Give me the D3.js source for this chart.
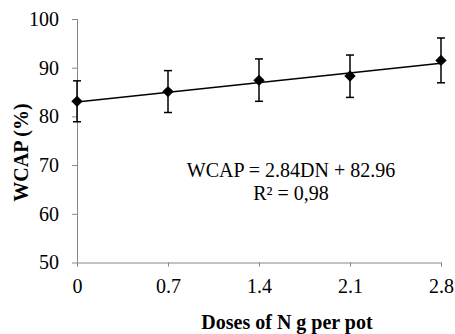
<!DOCTYPE html>
<html>
<head>
<meta charset="utf-8">
<script src="https://cdn.jsdelivr.net/npm/d3@7"></script>
<style>
  body { margin: 0; background: #fff; }
</style>
</head>
<body>
<svg id="chart" width="455" height="334"></svg>
<script>
// values
const doses = [0, 0.7, 1.4, 2.1, 2.8];
const wcap = [83.1, 85.1, 87.4, 88.3, 91.5];
const errUp = [4.2, 4.3, 4.4, 4.3, 4.6];
const errDown = [4.2, 4.3, 4.3, 4.4, 4.6];
const xTicks = ["0", "0.7", "1.4", "2.1", "2.8"];
const yTicks = [50, 60, 70, 80, 90, 100];
const trendSlope = 2.84;
const trendIntercept = 82.96;
const eqText = "WCAP = 2.84DN + 82.96";
const r2Text = "R² = 0,98";

const FONT = "Liberation Serif";
const svg = d3.select("#chart");

const marginLeft = 77;
const marginRight = 14;
const marginTop = 19;
const marginBottom = 71.5;
const width = 455, height = 334;

const xscale = d3.scaleLinear()
    .domain([0, 2.8])
    .range([marginLeft, width - marginRight]);

const yscale = d3.scaleLinear()
    .domain([50, 100])
    .range([height - marginBottom, marginTop]);

const axisColor = "#878787";

// axes
const xAxis = d3.axisBottom(xscale)
    .tickValues(doses)
    .tickFormat((d, i) => xTicks[i])
    .tickSizeOuter(0)
    .tickSize(4)
    .tickPadding(12);

const yAxis = d3.axisLeft(yscale)
    .tickValues(yTicks)
    .tickSizeOuter(0)
    .tickSize(5)
    .tickPadding(13);

const gx = svg.append("g")
    .attr("transform", `translate(0,${height - marginBottom})`)
    .call(xAxis);
const gy = svg.append("g")
    .attr("transform", `translate(${marginLeft},0)`)
    .call(yAxis);

[gx, gy].forEach(g => {
    g.attr("font-family", null).attr("font-size", null);
    g.select(".domain").attr("stroke", axisColor).attr("stroke-width", 1);
    g.selectAll(".tick line").attr("stroke", axisColor);
    g.selectAll(".tick text")
        .attr("fill", "#000")
        .style("font-size", "20px")
        .style("font-family", FONT);
});
gy.select(".domain").attr("d", `M0.5,${yscale(100)}V${yscale(50)}`);

// trend line
const line = d3.line()
    .x(d => xscale(d))
    .y(d => yscale(trendIntercept + trendSlope * d));

svg.append("path")
    .attr("d", line([doses[0], doses[doses.length - 1]]))
    .attr("fill", "none")
    .attr("stroke", "#000")
    .attr("stroke-width", 1.3);

// error bars
const eb = svg.append("g").attr("stroke", "#000").attr("stroke-width", 1.5);
doses.forEach((d, i) => {
    const x = xscale(d);
    const y1 = yscale(wcap[i] + errUp[i]);
    const y0 = yscale(wcap[i] - errDown[i]);
    eb.append("line").attr("x1", x).attr("x2", x).attr("y1", y1).attr("y2", y0);
    eb.append("line").attr("x1", x - 4).attr("x2", x + 4).attr("y1", y1).attr("y2", y1);
    eb.append("line").attr("x1", x - 4).attr("x2", x + 4).attr("y1", y0).attr("y2", y0);
});

// diamond markers
const diamond = d3.symbol().type(d3.symbolSquare).size(64);
svg.append("g").selectAll("path")
    .data(doses)
    .join("path")
    .attr("d", diamond)
    .attr("transform", (d, i) => `translate(${xscale(d)},${yscale(wcap[i])}) rotate(45)`)
    .attr("fill", "#000");

// equation
const eqX = 291;
svg.append("text")
    .attr("x", eqX).attr("y", 177)
    .attr("text-anchor", "middle")
    .style("font-family", FONT)
    .style("font-size", "20px")
    .text(eqText);
svg.append("text")
    .attr("x", eqX).attr("y", 200)
    .attr("text-anchor", "middle")
    .style("font-family", FONT)
    .style("font-size", "20px")
    .text(r2Text);

// axis titles
svg.append("text")
    .attr("x", 287).attr("y", 329)
    .attr("text-anchor", "middle")
    .style("font-family", FONT)
    .style("font-size", "20px")
    .style("font-weight", "bold")
    .text("Doses of N g per pot");

svg.append("text")
    .attr("transform", `translate(28,152.5) rotate(-90)`)
    .attr("text-anchor", "middle")
    .style("font-family", FONT)
    .style("font-size", "20px")
    .style("font-weight", "bold")
    .text("WCAP (%)");
</script>
</body>
</html>
